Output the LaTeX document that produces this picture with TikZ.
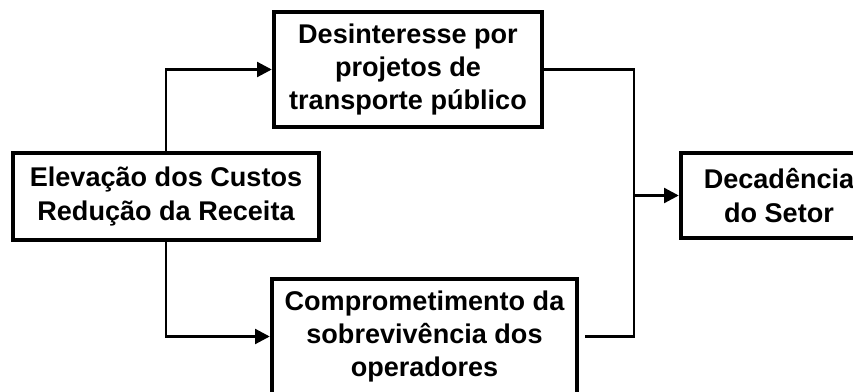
\documentclass[tikz,border=0pt]{standalone}
\usepackage{fontspec}
\setmainfont{Liberation Sans}
\usetikzlibrary{arrows.meta}
\tikzset{
	caixa/.style={draw, line width=3.3pt, align=center, inner sep=0pt,
		font=\bfseries\fontsize{20.3}{25}\selectfont},
	liga/.style={line width=2.2pt},
	seta/.style={liga, -{Triangle[length=11pt,width=11pt]}}
}
\begin{document}
\begin{tikzpicture}[x=0.75pt, y=-0.75pt]
	\useasboundingbox (0,0) rectangle (853,392);
	\clip (0,0) rectangle (853,392);
	\node (custos) at (166,196.5) [caixa, minimum width=229.5pt, minimum height=65.25pt] {
		Elevação dos Custos\\ Redução da Receita
	};
	\node (desint) at (408,69.5) [caixa, minimum width=201pt, minimum height=86.25pt] {
		Desinteresse por\\ projetos de\\ transporte público
	};
	\node (compr) at (424.5,336.5) [caixa, minimum width=228.75pt, minimum height=86.25pt] {
		Comprometimento da\\ sobrevivência dos\\ operadores
	};
	\node (decad) at (779,195.5) [caixa, minimum width=147pt, minimum height=63.75pt] {
		Decadência\\ do Setor
	};
	\coordinate (junta) at (634,195.5);
	\draw[seta] (custos.north) |- (desint.west);
	\draw[seta] (custos.south) |- (compr.west);
	\draw[liga] (desint.east) -| (junta);
	\draw[liga] ([xshift=4.5pt]compr.east) -| (junta);
	\draw[seta] (junta) -- (decad.west);
\end{tikzpicture}
\end{document}
